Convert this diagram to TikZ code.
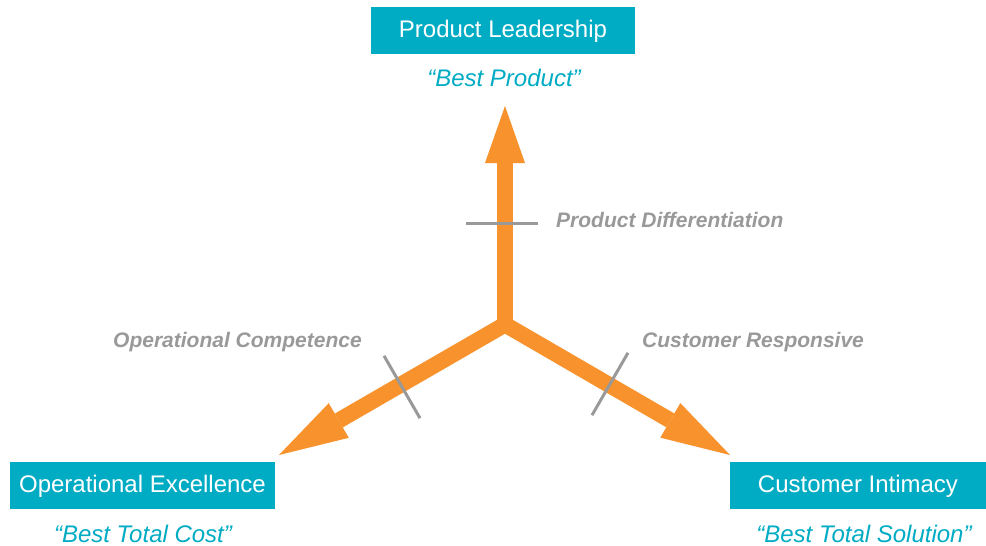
\documentclass[tikz,border=0pt]{standalone}
\usepackage{fontspec}
\setmainfont{Liberation Sans}
\usepackage{xcolor}
\usetikzlibrary{arrows.meta}

\definecolor{discteal}{HTML}{00ABC4}
\definecolor{discorange}{HTML}{F7922D}
\definecolor{discgray}{HTML}{999999}

\begin{document}
\begin{tikzpicture}[x=1pt, y=-1pt,
  value/.style={fill=discteal, text=white, minimum height=47pt, inner sep=0pt,
                text height=18pt, text depth=4pt, font=\fontsize{24}{28}\selectfont},
  motto/.style={anchor=base, text=discteal, inner sep=0pt,
                font=\fontsize{24}{28}\selectfont\itshape},
  axislabel/.style={anchor=base west, text=discgray, inner sep=0pt,
                    font=\fontsize{21}{25}\selectfont\bfseries\itshape},
  arm/.style={discorange, line width=16pt, line join=miter},
  uptip/.style={-{Triangle[length=57pt, width=40pt, line width=0pt]}},
  sidetip/.style={{Triangle[length=69pt, width=40pt, line width=0pt]}-{Triangle[length=69pt, width=40pt, line width=0pt]}},
  notch/.style={discgray, line width=3pt}
]
\useasboundingbox (0,0) rectangle (986,546);

% the three value disciplines
\node[value, minimum width=264pt] (lead) at (503,30.5) {Product Leadership};
\node[motto] (lead motto) at (504,86) {“Best Product”};
\node[value, minimum width=265pt] (ops) at (142.5,485.5) {Operational Excellence};
\node[motto] (ops motto) at (143,542) {“Best Total Cost”};
\node[value, minimum width=256pt] (cust) at (858,485.5) {Customer Intimacy};
\node[motto] (cust motto) at (864,542) {“Best Total Solution”};

% arms of the triangle
\coordinate (core) at (505,324.5);
\coordinate (lead tip) at (505,106);
\coordinate (ops tip) at (279,455);
\coordinate (cust tip) at (730,455);
\draw[arm, sidetip] (ops tip) -- (core) -- (cust tip);
\draw[arm, uptip] (core) -- (lead tip);

% thresholds on each arm
\draw[notch] (466,223) -- (538,223);
\draw[notch] (384,355.8) -- (420,418.2);
\draw[notch] (628,352.8) -- (592,415.2);

\node[axislabel] (diff) at (556,227) {Product Differentiation};
\node[axislabel] (comp) at (113,347) {Operational Competence};
\node[axislabel] (resp) at (642,347) {Customer Responsive};
\end{tikzpicture}
\end{document}
